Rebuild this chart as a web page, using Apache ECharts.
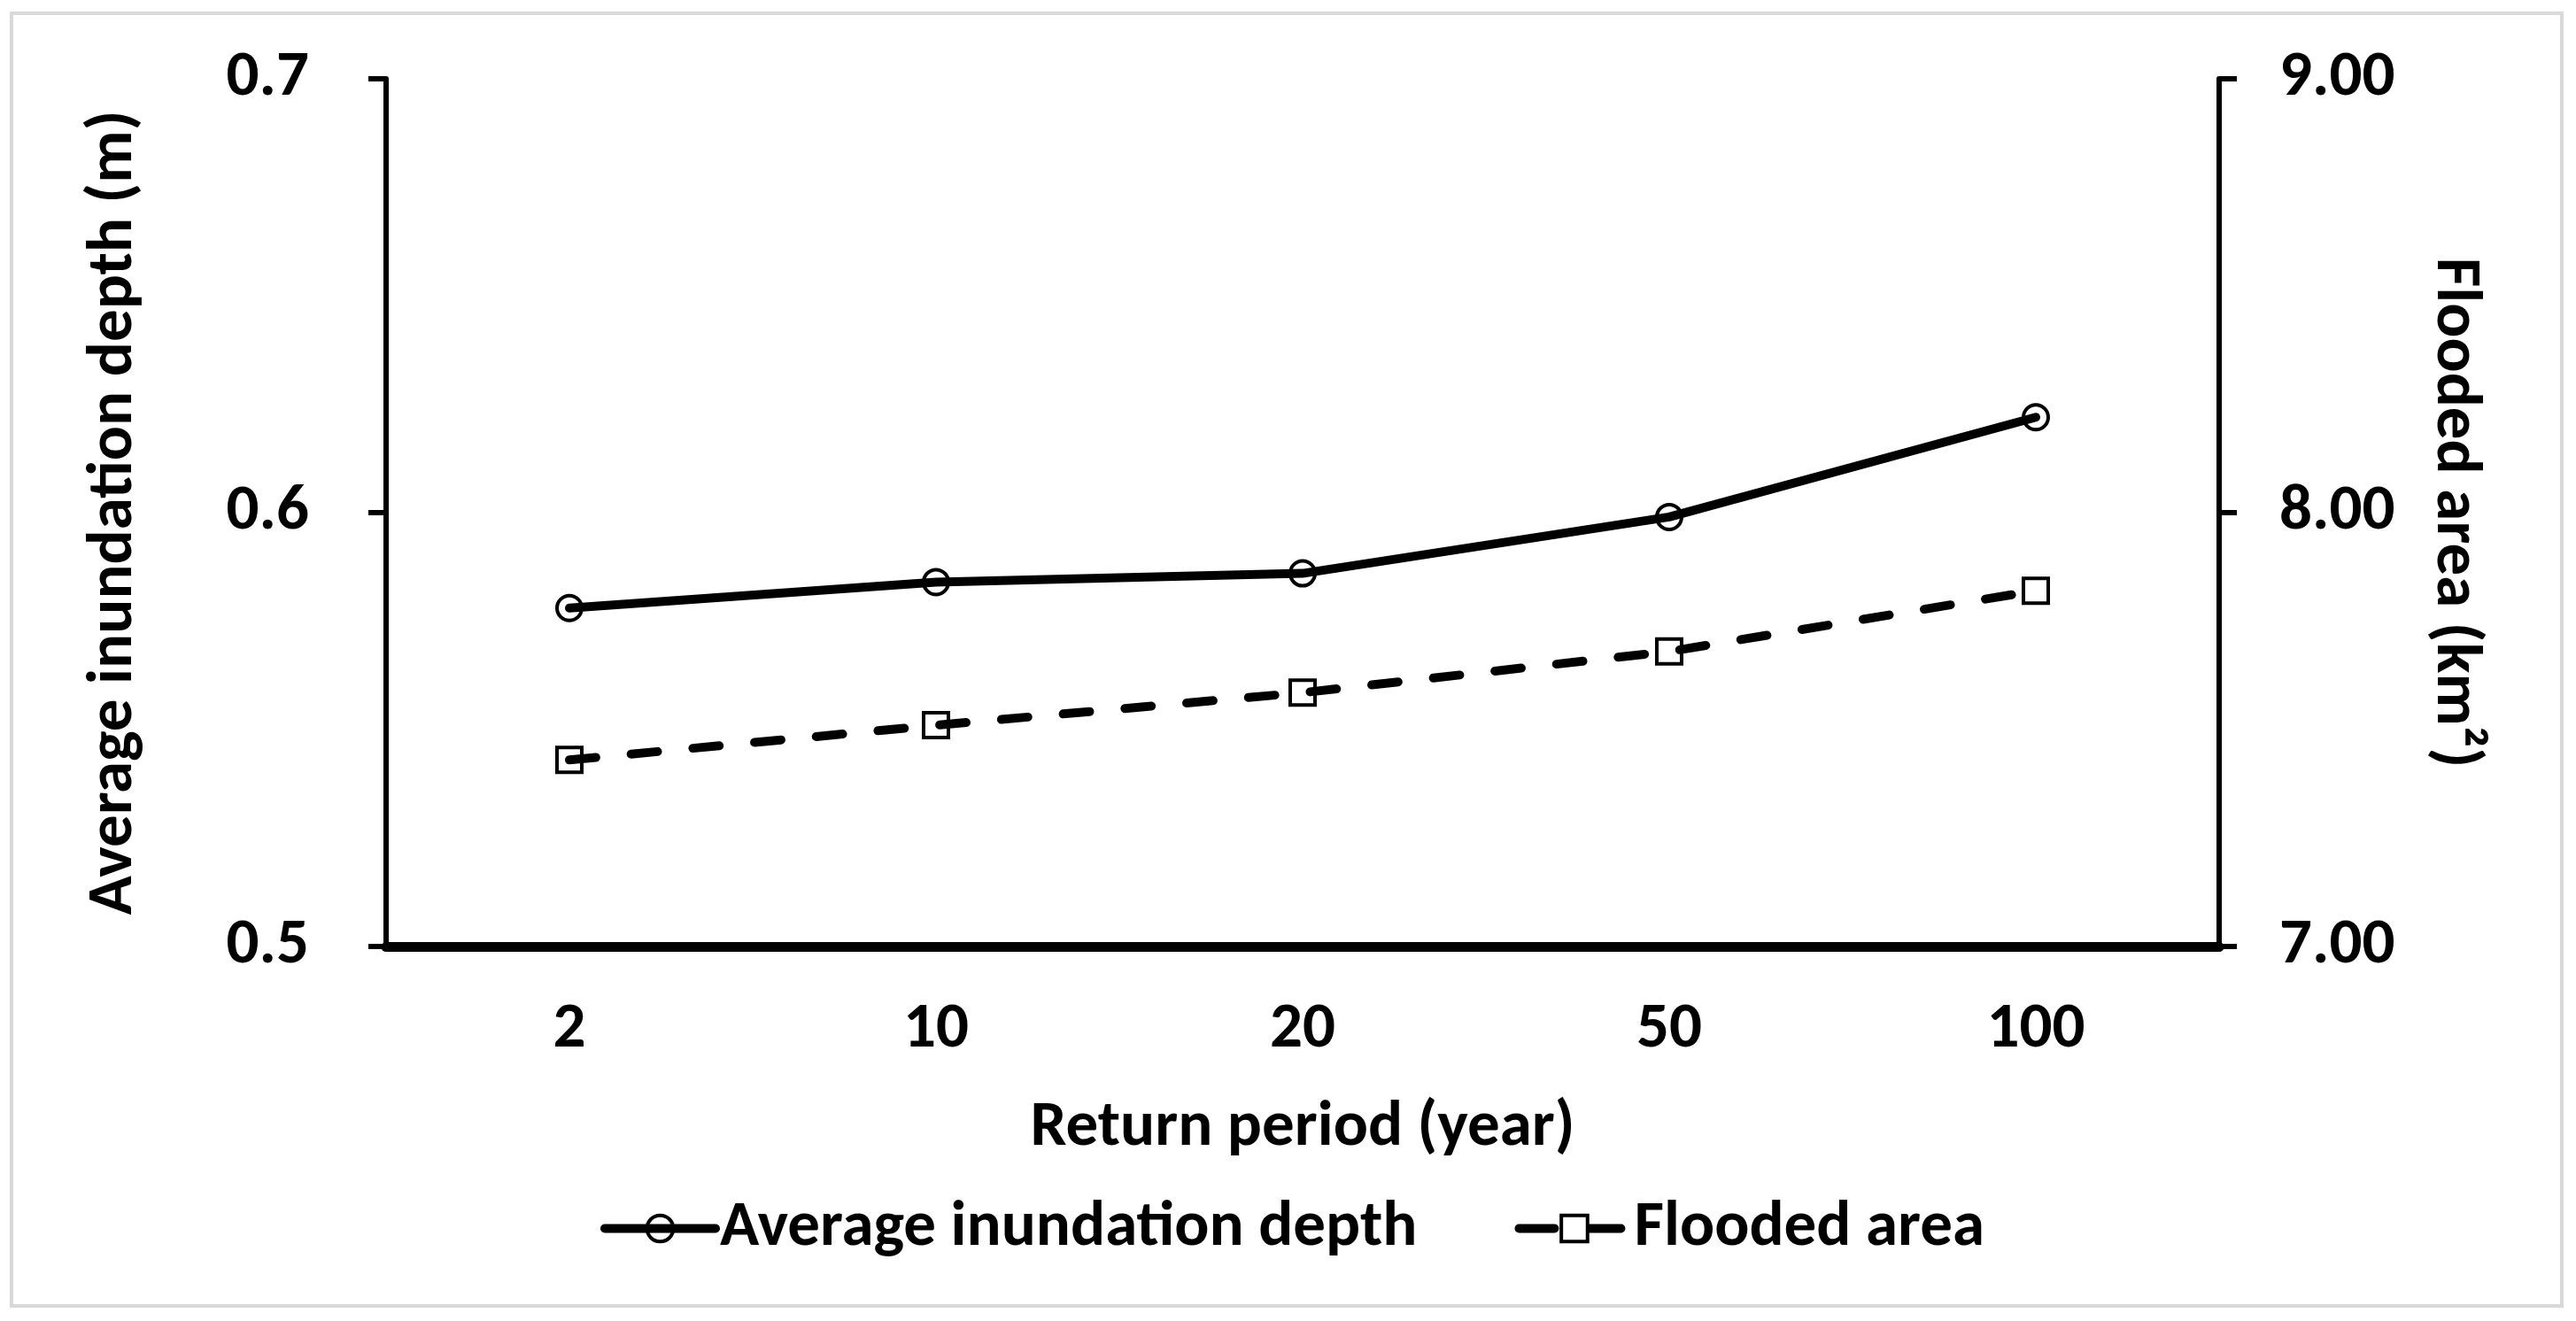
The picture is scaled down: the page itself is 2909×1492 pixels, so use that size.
<!DOCTYPE html>
<html>
<head>
<meta charset="utf-8">
<script src="https://cdn.jsdelivr.net/npm/echarts@6/dist/echarts.min.js"></script>
<style>
  html, body { margin: 0; padding: 0; background: #ffffff; }
  #chart { width: 2909px; height: 1492px; }
</style>
</head>
<body>
<div id="chart"></div>
<script>
// ---- data ----
const returnPeriods = ['2', '10', '20', '50', '100'];
const depthValues = [0.578, 0.584, 0.586, 0.599, 0.622];
const areaValues = [7.43, 7.51, 7.585, 7.68, 7.82];
const depthMin = 0.5, depthMax = 0.7, depthStep = 0.1;
const areaMin = 7, areaMax = 9, areaStep = 1;
const depthName = 'Average inundation depth';
const areaName = 'Flooded area';

const FONT = 'Carlito, Lato, sans-serif';
const FS = 73;

const chart = echarts.init(document.getElementById('chart'), null, { renderer: 'canvas' });

const option = {
  backgroundColor: '#ffffff',
  animation: false,
  graphic: [{
    type: 'rect',
    z: -10,
    shape: { x: 13, y: 15, width: 2880, height: 1460 },
    style: { fill: 'none', stroke: '#d9d9d9', lineWidth: 4 }
  }],
  grid: {
    left: 436, right: 403, top: 89, bottom: 423,
    containLabel: false,
    outerBoundsMode: 'none'
  },
  legend: {
    left: 673,
    top: 1346,
    itemWidth: 125,
    itemHeight: 37,
    itemGap: 110,
    textStyle: { fontFamily: FONT, fontSize: FS, fontWeight: 'bold', color: '#000' },
    data: [
      { name: depthName, lineStyle: { width: 10 }, itemStyle: { borderWidth: 4, borderColor: '#000', color: 'rgba(255,255,255,0)' } },
      { name: areaName, lineStyle: { width: 10, type: [40, 35] }, itemStyle: { borderWidth: 4, borderColor: '#000', color: '#ffffff' } }
    ]
  },
  xAxis: {
    type: 'category',
    data: returnPeriods,
    boundaryGap: true,
    name: 'Return period (year)',
    nameLocation: 'middle',
    nameGap: 169,
    nameTextStyle: { fontFamily: FONT, fontSize: FS, fontWeight: 'bold', color: '#000' },
    axisLine: { show: true, lineStyle: { color: '#000', width: 11 } },
    axisTick: { show: false },
    axisLabel: { fontFamily: FONT, fontSize: FS, fontWeight: 'bold', color: '#000', margin: 58 },
    splitLine: { show: false }
  },
  yAxis: [{
    type: 'value',
    position: 'left',
    min: depthMin, max: depthMax, interval: depthStep,
    name: 'Average inundation depth (m)',
    nameLocation: 'middle',
    nameRotate: 90,
    nameGap: 270,
    nameTextStyle: { fontFamily: FONT, fontSize: FS, fontWeight: 'bold', color: '#000' },
    axisLine: { show: true, lineStyle: { color: '#000', width: 6 } },
    axisTick: { show: true, inside: false, length: 20, lineStyle: { color: '#000', width: 6 } },
    axisLabel: {
      fontFamily: FONT, fontSize: FS, fontWeight: 'bold', color: '#000', margin: 87,
      formatter: v => v.toFixed(1)
    },
    splitLine: { show: false }
  }, {
    type: 'value',
    position: 'right',
    min: areaMin, max: areaMax, interval: areaStep,
    name: 'Flooded area (km²)',
    nameLocation: 'middle',
    nameRotate: -90,
    nameGap: 229,
    nameTextStyle: { fontFamily: FONT, fontSize: FS, fontWeight: 'bold', color: '#000' },
    axisLine: { show: true, lineStyle: { color: '#000', width: 6 } },
    axisTick: { show: true, inside: false, length: 20, lineStyle: { color: '#000', width: 6 } },
    axisLabel: {
      fontFamily: FONT, fontSize: FS, fontWeight: 'bold', color: '#000', margin: 68,
      formatter: v => v.toFixed(2)
    },
    splitLine: { show: false }
  }],
  series: [{
    name: depthName,
    type: 'line',
    yAxisIndex: 0,
    data: depthValues,
    symbol: 'circle',
    symbolSize: 28,
    showSymbol: true,
    lineStyle: { color: '#000', width: 10, type: 'solid', cap: 'round' },
    itemStyle: { color: 'rgba(255,255,255,0)', borderColor: '#000', borderWidth: 4 },
    emphasis: { disabled: true }
  }, {
    name: areaName,
    type: 'line',
    yAxisIndex: 1,
    data: areaValues,
    symbol: 'rect',
    symbolSize: 28,
    showSymbol: true,
    lineStyle: { color: '#000', width: 10, type: [30, 40], cap: 'round' },
    itemStyle: { color: 'rgba(255,255,255,0)', borderColor: '#000', borderWidth: 4 },
    emphasis: { disabled: true }
  }]
};

chart.setOption(option);
</script>
</body>
</html>
